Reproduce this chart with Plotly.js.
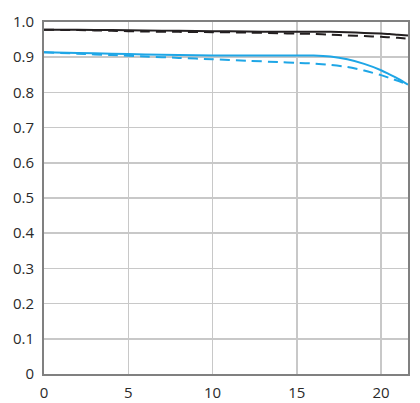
<!DOCTYPE html>
<html><head><meta charset="utf-8">
<script src="https://cdn.plot.ly/plotly-3.0.1.min.js"></script>
<style>html,body{margin:0;padding:0;background:#fff;}#chart{width:420px;height:403px;}</style>
</head><body><div id="chart"></div>
<script>
const xPos = [0, 2, 4, 6, 8, 10, 12, 14, 15, 16, 17, 18, 19, 20, 20.5, 21, 21.6];
const blackSolid = [0.978, 0.978, 0.977, 0.976, 0.975, 0.974, 0.973, 0.972, 0.972, 0.972, 0.972, 0.971, 0.969, 0.967, 0.966, 0.964, 0.962];
const blackDashed = [0.978, 0.977, 0.975, 0.973, 0.972, 0.971, 0.970, 0.968, 0.967, 0.966, 0.964, 0.962, 0.960, 0.958, 0.957, 0.955, 0.953];
const blueSolid = [0.914, 0.912, 0.910, 0.908, 0.906, 0.905, 0.905, 0.905, 0.905, 0.905, 0.902, 0.894, 0.881, 0.863, 0.851, 0.839, 0.822];
const blueDashed = [0.914, 0.910, 0.906, 0.902, 0.898, 0.894, 0.890, 0.886, 0.884, 0.882, 0.878, 0.872, 0.862, 0.849, 0.841, 0.833, 0.822];
const xTicks = [0, 5, 10, 15, 20];
const yTicks = [0, 0.1, 0.2, 0.3, 0.4, 0.5, 0.6, 0.7, 0.8, 0.9, 1.0];
const yTickText = ['0', '0.1', '0.2', '0.3', '0.4', '0.5', '0.6', '0.7', '0.8', '0.9', '1.0'];

const black = '#231f20', blue = '#1ea6e6';
const traces = [
  {x: xPos, y: blueDashed, mode: 'lines', line: {color: blue, width: 2, dash: '10px,6px', shape: 'spline', smoothing: 0.8}},
  {x: xPos, y: blueSolid, mode: 'lines', line: {color: blue, width: 2, shape: 'spline', smoothing: 0.8}},
  {x: xPos, y: blackDashed, mode: 'lines', line: {color: black, width: 2, dash: '10px,6px', shape: 'spline', smoothing: 0.8}},
  {x: xPos, y: blackSolid, mode: 'lines', line: {color: black, width: 2, shape: 'spline', smoothing: 0.8}}
];
const font = {family: 'Open Sans, sans-serif', size: 15, color: '#2a2a2a'};
const layout = {
  width: 420, height: 403,
  margin: {l: 44, r: 12, t: 22, b: 28.5},
  paper_bgcolor: '#fff', plot_bgcolor: '#fff',
  showlegend: false,
  font: font,
  xaxis: {range: [0, 21.6], tickvals: xTicks, ticktext: xTicks.map(String), showgrid: true, gridcolor: '#c8c8c8', gridwidth: 1.5,
          zeroline: false, showline: true, linecolor: '#808080', linewidth: 2, mirror: true, ticks: '', ticklabelstandoff: 4, tickfont: font},
  yaxis: {range: [0, 1.0], tickvals: yTicks, ticktext: yTickText, showgrid: true, gridcolor: '#c8c8c8', gridwidth: 1.5,
          zeroline: false, showline: true, linecolor: '#808080', linewidth: 2, mirror: true, ticks: '', ticklabelstandoff: 5, tickfont: font}
};
Plotly.newPlot('chart', traces, layout, {displayModeBar: false, staticPlot: true});
</script></body></html>
